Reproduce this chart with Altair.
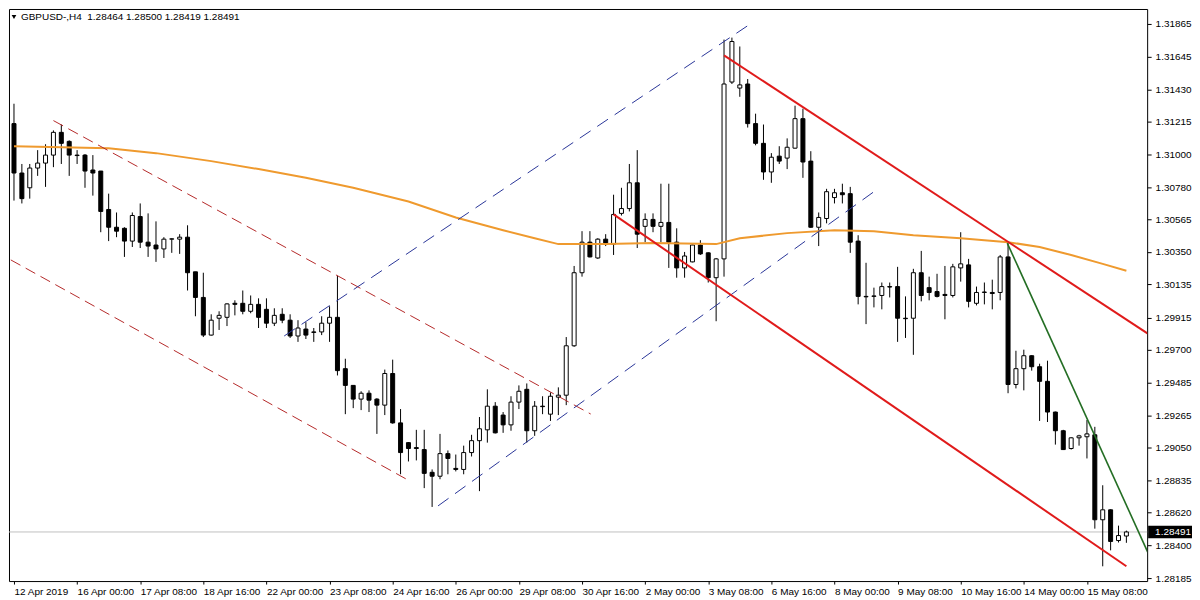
import altair as alt
import pandas as pd

FONT = "Liberation Sans"
W, H = 1142, 574

header_text = "GBPUSD-,H4\u00a0\u00a01.28464 1.28500 1.28419 1.28491"
last_price = 1.28491

date_labels = ["12 Apr 2019", "16 Apr 00:00", "17 Apr 08:00", "18 Apr 16:00", "22 Apr 00:00",
               "23 Apr 08:00", "24 Apr 16:00", "26 Apr 00:00", "29 Apr 08:00", "30 Apr 16:00",
               "2 May 00:00", "3 May 08:00", "6 May 16:00", "8 May 00:00", "9 May 08:00",
               "10 May 16:00", "14 May 00:00", "15 May 08:00"]
price_ticks = [1.31865, 1.31645, 1.31430, 1.31215, 1.31000, 1.30780, 1.30565, 1.30350, 1.30135,
               1.29915, 1.29700, 1.29485, 1.29265, 1.29050, 1.28835, 1.28620, 1.28400, 1.28185]

opens = [1.31202, 1.30874, 1.30776, 1.30907, 1.30940, 1.30993, 1.31144, 1.31084, 1.30993, 1.30993,
         1.30894, 1.30887, 1.30632, 1.30514, 1.30507, 1.30422, 1.30585, 1.30415, 1.30396, 1.30370,
         1.30435, 1.30435, 1.30448, 1.30218, 1.30048, 1.29798, 1.29910, 1.29916, 1.30009, 1.30009,
         1.29956, 1.30002, 1.29969, 1.29877, 1.29936, 1.29897, 1.29792, 1.29838, 1.29819, 1.29819,
         1.29877, 1.29916, 1.29575, 1.29464, 1.29373, 1.29412, 1.29373, 1.29333, 1.29543, 1.29215,
         1.29084, 1.29051, 1.29038, 1.28887, 1.28861, 1.29011, 1.28913, 1.28906, 1.29018, 1.29097,
         1.29169, 1.29326, 1.29267, 1.29202, 1.29353, 1.29438, 1.29163, 1.29326, 1.29273, 1.29386,
         1.29399, 1.29727, 1.30212, 1.30415, 1.30310, 1.30435, 1.30402, 1.30606, 1.30638, 1.30809,
         1.30520, 1.30566, 1.30520, 1.30546, 1.30415, 1.30244, 1.30284, 1.30396, 1.30344, 1.30179,
         1.30304, 1.31478, 1.31438, 1.31465, 1.31202, 1.31071, 1.30881, 1.30986, 1.30973, 1.31039,
         1.31235, 1.30953, 1.30514, 1.30572, 1.30711, 1.30743, 1.30737, 1.30422, 1.30055, 1.30055,
         1.30061, 1.30120, 1.30120, 1.29910, 1.29910, 1.30212, 1.30113, 1.30087, 1.30068, 1.30061,
         1.30244, 1.30264, 1.30009, 1.30081, 1.30081, 1.30081, 1.30317, 1.29470, 1.29575, 1.29661,
         1.29588, 1.29491, 1.29287, 1.29163, 1.29045, 1.29116, 1.29123, 1.29136, 1.28572, 1.28638,
         1.28434, 1.28464]
highs = [1.31334, 1.30934, 1.30934, 1.31026, 1.31065, 1.31157, 1.31196, 1.31091, 1.31026, 1.31000,
         1.30993, 1.30887, 1.30737, 1.30612, 1.30514, 1.30612, 1.30672, 1.30606, 1.30553, 1.30448,
         1.30441, 1.30468, 1.30527, 1.30218, 1.30212, 1.29936, 1.29956, 1.30009, 1.30029, 1.30094,
         1.30061, 1.30042, 1.30042, 1.29976, 1.29976, 1.29936, 1.29897, 1.29884, 1.29845, 1.29923,
         1.29989, 1.30192, 1.29641, 1.29464, 1.29425, 1.29431, 1.29379, 1.29569, 1.29635, 1.29307,
         1.29088, 1.29169, 1.29169, 1.28906, 1.29142, 1.29032, 1.29005, 1.29064, 1.29136, 1.29254,
         1.29438, 1.29353, 1.29287, 1.29392, 1.29464, 1.29477, 1.29360, 1.29392, 1.29418, 1.29451,
         1.29785, 1.30257, 1.30488, 1.30488, 1.30441, 1.30468, 1.30730, 1.30776, 1.30934, 1.31026,
         1.30606, 1.30606, 1.30803, 1.30803, 1.30507, 1.30350, 1.30399, 1.30428, 1.30347, 1.30310,
         1.31760, 1.31773, 1.31714, 1.31498, 1.31268, 1.31196, 1.31006, 1.31052, 1.31104, 1.31321,
         1.31301, 1.31019, 1.30612, 1.30769, 1.30769, 1.30803, 1.30782, 1.30461, 1.30278, 1.30113,
         1.30147, 1.30147, 1.30251, 1.30055, 1.30238, 1.30357, 1.30186, 1.30205, 1.30257, 1.30271,
         1.30481, 1.30304, 1.30120, 1.30147, 1.30166, 1.30330, 1.30409, 1.29694, 1.29701, 1.29664,
         1.29608, 1.29628, 1.29290, 1.29169, 1.29120, 1.29136, 1.29234, 1.29189, 1.28801, 1.28641,
         1.28533, 1.28500]
lows = [1.30691, 1.30672, 1.30704, 1.30855, 1.30782, 1.30913, 1.30934, 1.30855, 1.30934, 1.30776,
        1.30724, 1.30481, 1.30422, 1.30448, 1.30317, 1.30383, 1.30376, 1.30317, 1.30284, 1.30310,
        1.30344, 1.30337, 1.30094, 1.29923, 1.29785, 1.29795, 1.29832, 1.29858, 1.29929, 1.29936,
        1.29943, 1.29845, 1.29845, 1.29858, 1.29877, 1.29779, 1.29753, 1.29772, 1.29753, 1.29798,
        1.29753, 1.29530, 1.29273, 1.29313, 1.29300, 1.29287, 1.29142, 1.29267, 1.29210, 1.28874,
        1.28959, 1.28966, 1.28782, 1.28657, 1.28841, 1.28874, 1.28893, 1.28874, 1.28992, 1.28762,
        1.29084, 1.29145, 1.29149, 1.29163, 1.29307, 1.29084, 1.29129, 1.29273, 1.29228, 1.29267,
        1.29333, 1.29720, 1.30186, 1.30314, 1.30304, 1.30389, 1.30330, 1.30592, 1.30619, 1.30376,
        1.30415, 1.30481, 1.30415, 1.30244, 1.30179, 1.30179, 1.30281, 1.30330, 1.30147, 1.29890,
        1.30186, 1.31465, 1.31380, 1.31176, 1.31058, 1.30829, 1.30809, 1.30934, 1.30900, 1.31036,
        1.30842, 1.30510, 1.30389, 1.30540, 1.30672, 1.30672, 1.30344, 1.30002, 1.29871, 1.29982,
        1.29969, 1.30048, 1.29753, 1.29779, 1.29667, 1.30022, 1.30029, 1.30048, 1.29903, 1.30048,
        1.30153, 1.29982, 1.29995, 1.30002, 1.29969, 1.30029, 1.29412, 1.29444, 1.29431, 1.29562,
        1.29228, 1.29221, 1.29071, 1.29035, 1.29038, 1.29064, 1.28979, 1.28513, 1.28263, 1.28369,
        1.28421, 1.28419]
closes = [1.30874, 1.30704, 1.30907, 1.30940, 1.30993, 1.31144, 1.31071, 1.30993, 1.30990, 1.30887,
          1.30874, 1.30619, 1.30514, 1.30488, 1.30422, 1.30592, 1.30415, 1.30389, 1.30370, 1.30435,
          1.30437, 1.30448, 1.30212, 1.30048, 1.29798, 1.29897, 1.29929, 1.30005, 1.30002, 1.29956,
          1.30002, 1.29916, 1.29877, 1.29929, 1.29897, 1.29792, 1.29845, 1.29798, 1.29816, 1.29877,
          1.29916, 1.29562, 1.29464, 1.29373, 1.29412, 1.29366, 1.29333, 1.29543, 1.29215, 1.29018,
          1.29045, 1.29045, 1.28880, 1.28861, 1.29011, 1.28979, 1.28906, 1.29018, 1.29097, 1.29176,
          1.29326, 1.29149, 1.29202, 1.29353, 1.29425, 1.29163, 1.29326, 1.29323, 1.29392, 1.29399,
          1.29727, 1.30212, 1.30415, 1.30317, 1.30435, 1.30402, 1.30599, 1.30638, 1.30809, 1.30468,
          1.30566, 1.30520, 1.30546, 1.30415, 1.30244, 1.30323, 1.30396, 1.30337, 1.30179, 1.30304,
          1.31465, 1.31747, 1.31459, 1.31202, 1.31071, 1.30881, 1.30979, 1.30953, 1.31045, 1.31235,
          1.30947, 1.30514, 1.30579, 1.30750, 1.30743, 1.30730, 1.30415, 1.30055, 1.30052, 1.30058,
          1.30120, 1.30117, 1.29910, 1.29907, 1.30212, 1.30061, 1.30081, 1.30055, 1.30061, 1.30251,
          1.30271, 1.30022, 1.30081, 1.30084, 1.30074, 1.30317, 1.29470, 1.29575, 1.29661, 1.29588,
          1.29491, 1.29287, 1.29163, 1.29038, 1.29116, 1.29129, 1.29142, 1.28572, 1.28638, 1.28428,
          1.28467, 1.28491]

# moving average (bar index, price)
ma_idx = [0, 12, 18, 25, 31, 37, 43, 50, 56, 62, 66, 69, 75, 81, 89, 92, 98, 104, 109, 114,
          120, 126, 130, 134, 138, 141]
ma_val = [1.31052, 1.31039, 1.31006, 1.30953, 1.30900, 1.30842, 1.30776, 1.30685, 1.30579, 1.30494,
          1.30441, 1.30402, 1.30402, 1.30409, 1.30402, 1.30441, 1.30475, 1.30494, 1.30488, 1.30461,
          1.30441, 1.30415, 1.30383, 1.30330, 1.30271, 1.30225]

# trend lines: (bar index start, end), (price start, end)
red_dash_upper_idx = [5, 73.1]
red_dash_upper_val = [1.31222, 1.29274]
red_dash_lower_idx = [-0.4, 50]
red_dash_lower_val = [1.30297, 1.28834]
blue_upper_idx = [34.25, 93]
blue_upper_val = [1.29792, 1.31852]
blue_lower_idx = [53.75, 109]
blue_lower_val = [1.28664, 1.30750]
red_upper_idx = [90, 144]
red_upper_val = [1.31655, 1.29798]
red_lower_idx = [76, 141]
red_lower_val = [1.30599, 1.28263]
green_idx = [125.9, 144]
green_val = [1.30409, 1.28323]

n = len(opens)
candles = pd.DataFrame({"idx": list(range(n)), "open": opens, "high": highs,
                        "low": lows, "close": closes})
one = pd.DataFrame({"k": [0]})

xs = alt.Scale(domain=[0, 143], nice=False, zero=False)
ys = alt.Scale(domain=[1.28165, 1.31963], nice=False, zero=False)

label_js = "[" + ",".join("'%s'" % s for s in date_labels) + "]"
x_axis = alt.Axis(values=[8 * i for i in range(len(date_labels))],
                  labelExpr=label_js + "[round(datum.value/8)]",
                  labelAlign="left", labelBaseline="top", labelPadding=2, tickSize=3,
                  labelOverlap=False, labelFlush=False, domain=False, grid=False, title=None,
                  labelFont=FONT, labelFontSize=10, labelColor="black", tickColor="black")
y_axis = alt.Axis(orient="right", values=price_ticks, format=".5f", labelPadding=4, tickSize=4,
                  labelOverlap=False, labelFlush=False, domain=False, grid=False, title=None,
                  labelFont=FONT, labelFontSize=10, labelColor="black", tickColor="black")


def X(field):
    return alt.X(field, type="quantitative", scale=xs, axis=x_axis)


def Y(field):
    return alt.Y(field, type="quantitative", scale=ys, axis=y_axis)


def line_layer(idx, vals, color, width, dash=None):
    df = pd.DataFrame({"idx": idx, "p": vals})
    kw = dict(color=color, strokeWidth=width, clip=True)
    if dash:
        kw["strokeDash"] = dash
    return alt.Chart(df).mark_line(**kw).encode(x=X("idx"), y=Y("p"))


price_line = alt.Chart(one).mark_rule(color="#C0C0C0", strokeWidth=1).encode(
    y=alt.YDatum(datum=last_price, scale=ys, axis=y_axis))

wicks = alt.Chart(candles).mark_rule(color="black", strokeWidth=1, clip=True).encode(
    x=X("idx"), y=Y("low"), y2="high")

bodies = alt.Chart(candles).mark_bar(size=4, stroke="black", strokeWidth=1, orient="vertical",
                                     clip=True).encode(
    x=X("idx"), y=Y("open"), y2="close",
    fill=alt.condition("datum.close >= datum.open", alt.value("white"), alt.value("black")))

ma = line_layer(ma_idx, ma_val, "#EF9A2E", 2)
rd1 = line_layer(red_dash_upper_idx, red_dash_upper_val, "#B52A2A", 1, [11, 6])
rd2 = line_layer(red_dash_lower_idx, red_dash_lower_val, "#B52A2A", 1, [11, 6])
bl1 = line_layer(blue_upper_idx, blue_upper_val, "#2A3699", 1, [13, 8])
bl2 = line_layer(blue_lower_idx, blue_lower_val, "#2A3699", 1, [13, 8])
ru = line_layer(red_upper_idx, red_upper_val, "#E01B1B", 2)
rl = line_layer(red_lower_idx, red_lower_val, "#E01B1B", 2)
gr = line_layer(green_idx, green_val, "#246E24", 1.6)

tri = alt.Chart(one).mark_point(shape="triangle-down", filled=True, size=22, color="black",
                                opacity=1).encode(x=alt.value(5), y=alt.value(8))
header = alt.Chart(one).mark_text(text=header_text, align="left", baseline="middle",
                                  font=FONT, fontSize=10, color="black").encode(
    x=alt.value(12), y=alt.value(8))

box = alt.Chart(one).mark_rect(color="black").encode(
    x=alt.value(W + 1), x2=alt.value(W + 45),
    y=alt.YDatum(datum=last_price + 0.00041, scale=ys, axis=y_axis),
    y2=alt.Y2Datum(datum=last_price - 0.00041))
box_text = alt.Chart(one).mark_text(text="1.28491", align="left", baseline="middle",
                                    font=FONT, fontSize=10, color="white").encode(
    x=alt.value(W + 8), y=alt.YDatum(datum=last_price, scale=ys, axis=y_axis))

chart = alt.layer(
    price_line, wicks, bodies, ma, rd1, rd2, bl1, bl2, ru, rl, gr, tri, header, box, box_text
).properties(
    width=W, height=H, padding={"left": 0, "top": 0, "right": 0, "bottom": 0},
    background="white"
).configure_view(stroke="black", strokeWidth=1)

chart.save("out.html", embed_options={"renderer": "svg", "actions": False})
